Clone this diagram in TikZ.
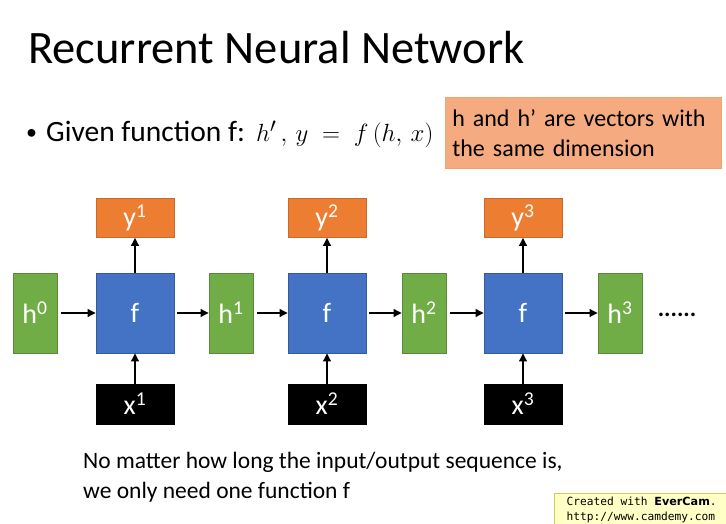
\documentclass[tikz,border=0pt]{standalone}
\usepackage{fontspec}
\setmainfont{Carlito}
\newfontfamily\evermono{DejaVu Sans Mono}
\newfontfamily\eversans{DejaVu Sans}
\usepackage{amsmath}
\usepackage{xcolor}
\usetikzlibrary{arrows.meta}
\definecolor{hgreen}{HTML}{70AD47}
\definecolor{fblue}{HTML}{4472C4}
\definecolor{yorange}{HTML}{ED7D31}
\definecolor{notefill}{HTML}{F6AA80}
\definecolor{everfill}{HTML}{FFFFC6}
\tikzset{cell/.style={draw, line width=0.6pt, inner sep=0pt, text=white,
   font=\fontsize{28}{32}\selectfont},
 hbox/.style={cell, fill=hgreen, draw=hgreen!80!black, minimum width=44pt, minimum height=80pt},
 fbox/.style={cell, fill=fblue, draw=fblue!80!black, minimum width=78pt, minimum height=80pt},
 ybox/.style={cell, fill=yorange, draw=yorange!85!black, minimum width=78pt, minimum height=39pt},
 xbox/.style={cell, fill=black, minimum width=78pt, minimum height=40pt},
 link/.style={-{Triangle[length=8pt,width=7.5pt]}, line width=2.3pt},
 }

\begin{document}
\begin{tikzpicture}[x=1pt,y=-1pt]
        \useasboundingbox[fill=white] (0,0) rectangle (726,524);
        % title and bullet
        \node[anchor=base west, inner sep=0pt, font=\fontsize{46.5}{52}\selectfont] (title) at (28,64) {Recurrent Neural Network};
        \node[anchor=base west, inner sep=0pt, font=\fontsize{22}{26}\selectfont] (bullet) at (26,140) {\textbullet};
        \node[anchor=base west, inner sep=0pt, font=\fontsize{29.5}{34}\selectfont] (given) at (46,142)
            {Given function f:};
        \node[anchor=base west, inner sep=0pt, font=\fontsize{32.5}{36}\selectfont] (givenmath) at (256,142)
            {$h'\,,\,y\;=\;f\,(h,\,x)$};
        \node[draw=yorange!70, fill=notefill, line width=0.6pt, anchor=north west, minimum width=273pt, minimum height=71pt,
            inner sep=7pt, text width=262pt, align=left, font=\fontsize{24}{30}\selectfont] (note) at (445,97)
            {h and h’ are vectors with\\the same dimension};
        % the unrolled network
        \node[hbox] (h0) at (35,313) {h\textsuperscript{0}};
        \node[fbox] (f1) at (135,313) {f};
        \node[ybox] (y1) at (135,218) {y\textsuperscript{1}};
        \node[xbox] (x1) at (135,404) {x\textsuperscript{1}};
        \node[hbox] (h1) at (231,313) {h\textsuperscript{1}};
        \node[fbox] (f2) at (327,313) {f};
        \node[ybox] (y2) at (327,218) {y\textsuperscript{2}};
        \node[xbox] (x2) at (327,404) {x\textsuperscript{2}};
        \node[hbox] (h2) at (424,313) {h\textsuperscript{2}};
        \node[fbox] (f3) at (523,313) {f};
        \node[ybox] (y3) at (523,218) {y\textsuperscript{3}};
        \node[xbox] (x3) at (523,404) {x\textsuperscript{3}};
        \node[hbox] (h3) at (620,313) {h\textsuperscript{3}};
        \node[font=\fontsize{24}{28}\selectfont\bfseries] (dots) at (677,315) {......};
        \draw[link, shorten <=4pt] (h0) -- (f1);
        \draw[link, shorten <=3pt] (f1) -- (h1);
        \draw[link, shorten <=4pt] (h1) -- (f2);
        \draw[link, shorten <=3pt] (f2) -- (h2);
        \draw[link, shorten <=4pt] (h2) -- (f3);
        \draw[link, shorten <=3pt] (f3) -- (h3);
        \draw[link] (f1) -- (y1);
        \draw[link] (f2) -- (y2);
        \draw[link] (f3) -- (y3);
        \draw[link] (x1) -- (f1);
        \draw[link] (x2) -- (f2);
        \draw[link] (x3) -- (f3);
        % bottom remark
        \node[anchor=base west, inner sep=0pt, font=\fontsize{23.5}{28}\selectfont] (remark1) at (83,468)
            {No matter how long the input/output sequence is,};
        \node[anchor=base west, inner sep=0pt, font=\fontsize{23.5}{28}\selectfont] (remark2) at (83,498)
            {we only need one function f};
        \node[draw=yellow!60!gray, fill=everfill, anchor=north west, minimum width=175pt, minimum height=34pt,
            inner sep=3pt, inner xsep=7pt, align=left, font=\evermono\fontsize{11.2}{15}\selectfont] (evercam) at (554,493)
            {Created with {\eversans\bfseries EverCam}.\\http://www.camdemy.com};
    \end{tikzpicture}
\end{document}
